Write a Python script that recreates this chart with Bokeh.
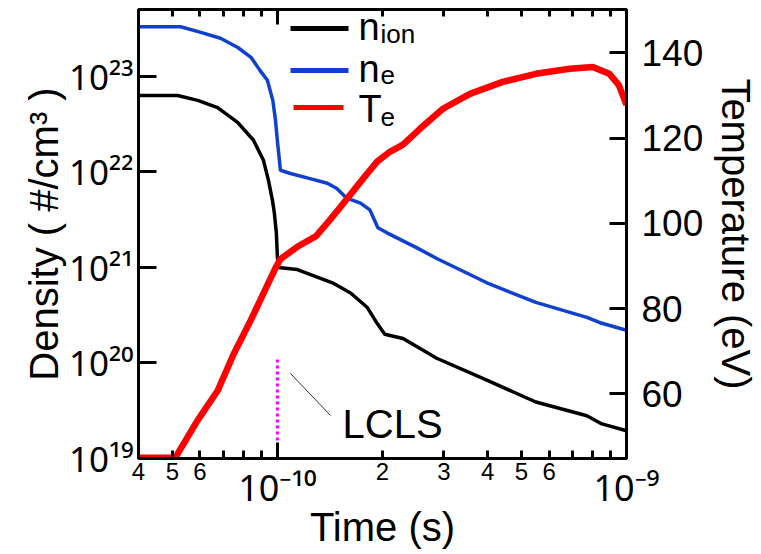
from bokeh.plotting import figure
from bokeh.models import (Range1d, LinearScale, LinearAxis, LogAxis, FixedTicker,
                          Label, BoxAnnotation, Arrow, CustomJSTickFormatter)
from bokeh.embed import file_html
from bokeh.resources import INLINE

FONT = "Liberation Sans"
SUP_FONT = "Noto Sans"

# ---------------- data ----------------
time_ion = [4.0e-11, 5.18e-11, 5.91e-11, 6.74e-11, 7.69e-11, 8.54e-11, 9.12e-11, 9.43e-11,
            9.68e-11, 9.8e-11, 9.93e-11, 1.0e-10, 1.007e-10, 1.14e-10, 1.30e-10, 1.45e-10,
            1.62e-10, 1.81e-10, 1.93e-10, 2.03e-10, 2.29e-10, 2.86e-10, 3.98e-10, 5.5e-10,
            7.7e-10, 8.5e-10, 1.0e-9]
n_ion = [6.3e22, 6.3e22, 5.6e22, 4.7e22, 3.3e22, 2.14e22, 1.32e22, 8.1e21,
         5.0e21, 3.7e21, 2.3e21, 1.27e21, 1.0e21, 9.5e20, 7.9e20, 6.8e20,
         5.4e20, 3.8e20, 2.6e20, 2.0e20, 1.8e20, 1.12e20, 6.6e19, 3.9e19,
         2.8e19, 2.3e19, 1.95e19]

time_e = [4.0e-11, 5.28e-11, 6.0e-11, 6.87e-11, 7.7e-11, 8.4e-11, 8.9e-11, 9.36e-11,
          9.7e-11, 9.87e-11, 1.0e-10, 1.02e-10, 1.09e-10, 1.24e-10, 1.39e-10, 1.48e-10,
          1.58e-10, 1.73e-10, 1.84e-10, 1.94e-10, 2.06e-10, 2.51e-10, 2.86e-10, 3.98e-10,
          5.5e-10, 7.7e-10, 8.5e-10, 1.0e-9]
n_e = [3.3e23, 3.3e23, 2.9e23, 2.5e23, 2.0e23, 1.58e23, 1.16e23, 9.1e22,
       5.6e22, 3.5e22, 2.1e22, 1.04e22, 9.6e21, 8.5e21, 7.6e21, 6.7e21,
       5.3e21, 4.7e21, 4.0e21, 2.6e21, 2.3e21, 1.6e21, 1.24e21, 6.9e20,
       4.3e20, 3.0e20, 2.6e20, 2.2e20]

time_T = [4.0e-11, 5.1e-11, 5.9e-11, 6.74e-11, 7.5e-11, 8.37e-11, 9.1e-11, 9.87e-11,
          1.02e-10, 1.14e-10, 1.29e-10, 1.42e-10, 1.48e-10, 1.62e-10, 1.76e-10, 1.93e-10,
          2.1e-10, 2.29e-10, 2.56e-10, 2.98e-10, 3.56e-10, 4.42e-10, 5.5e-10, 6.87e-10,
          8.0e-10, 8.93e-10, 9.5e-10, 1.0e-9]
T_e = [45.0, 45.0, 53.7, 60.7, 69.4, 77.1, 83.4, 89.5,
       91.6, 94.5, 97.0, 101.0, 102.8, 106.8, 110.5, 114.5,
       116.8, 118.5, 122.2, 126.9, 130.4, 133.2, 135.1, 136.3,
       136.7, 135.1, 132.5, 127.8]

lcls_time = [1.0e-10]
lcls_bottom = [1.0e19]
lcls_top = [1.1e20]

# ticks and tick labels
x_major_ticks = [1e-10, 1e-9]
x_major_labels = ["10\u207b\u00b9\u2070", "10\u207b\u2079"]           # 10⁻¹⁰, 10⁻⁹
x_minor_ticks = [4e-11, 5e-11, 6e-11, 7e-11, 8e-11, 9e-11,
                 2e-10, 3e-10, 4e-10, 5e-10, 6e-10, 7e-10, 8e-10, 9e-10]
x_minor_label_ticks = [4e-11, 5e-11, 6e-11, 2e-10, 3e-10, 4e-10, 5e-10, 6e-10]
x_minor_labels = ["4", "5", "6", "2", "3", "4", "5", "6"]
y_major_ticks = [1e19, 1e20, 1e21, 1e22, 1e23]
y_major_labels = ["10\u00b9\u2079", "10\u00b2\u2070", "10\u00b2\u00b9",
                  "10\u00b2\u00b2", "10\u00b2\u00b3"]                   # 10¹⁹ … 10²³
temp_ticks = [60, 80, 100, 120, 140]

LOOKUP = """
const lt = Math.log10(tick);
for (let i = 0; i < vals.length; i++) {
  if (Math.abs(Math.log10(vals[i]) - lt) < 1e-6) return texts[i];
}
return "";
"""

# ---------------- figure ----------------
p = figure(width=761, height=554, x_axis_type="log", y_axis_type="log",
           x_range=Range1d(4e-11, 1e-9), y_range=Range1d(1e19, 5e23),
           output_backend="svg", toolbar_location=None,
           min_border_left=138, min_border_right=134, min_border_top=9, min_border_bottom=96)
p.extra_y_ranges = {"temp": Range1d(44.8, 150.2)}
p.extra_y_scales = {"temp": LinearScale()}
p.xgrid.visible = False
p.ygrid.visible = False
p.outline_line_color = "black"
p.outline_line_width = 3
p.background_fill_color = "white"
p.border_fill_color = "white"


def style_axis(ax, tick_in, minor_in=0):
    ax.major_tick_in = tick_in
    ax.major_tick_out = 0
    ax.minor_tick_in = minor_in
    ax.minor_tick_out = 0
    ax.major_tick_line_width = 3
    ax.minor_tick_line_width = 3
    ax.axis_line_width = 3
    ax.major_tick_line_color = "black"
    ax.minor_tick_line_color = "black"
    ax.axis_line_color = "black"
    ax.axis_label_text_font = FONT
    ax.axis_label_text_font_style = "normal"
    ax.axis_label_text_font_size = "40px"
    ax.axis_label_text_color = "black"
    ax.major_label_text_font = FONT
    ax.major_label_text_color = "black"


# bottom axis 1: decade ticks (long) labelled 10^n, plus unlabelled minor ticks
xa = p.xaxis[0]
xa.ticker = FixedTicker(ticks=x_major_ticks, minor_ticks=x_minor_ticks)
xa.formatter = CustomJSTickFormatter(args=dict(vals=x_major_ticks, texts=x_major_labels), code=LOOKUP)
style_axis(xa, 16, 8)
xa.major_label_text_font = SUP_FONT
xa.major_label_text_font_size = "36px"
xa.major_label_standoff = 4

# bottom axis 2: digit labels of the minor ticks, pulled up beside the 10^n labels
xb = LogAxis(ticker=FixedTicker(ticks=x_minor_label_ticks, minor_ticks=[]),
             formatter=CustomJSTickFormatter(args=dict(vals=x_minor_label_ticks, texts=x_minor_labels),
                                             code=LOOKUP))
style_axis(xb, 0, 0)
xb.axis_line_color = None
xb.major_tick_line_color = None
xb.minor_tick_line_color = None
xb.major_label_text_font_size = "24px"
xb.major_label_standoff = -52
xb.axis_label = "Time (s)"
xb.axis_label_standoff = 22
p.add_layout(xb, "below")

ya = p.yaxis[0]
ya.ticker = FixedTicker(ticks=y_major_ticks, minor_ticks=[])
ya.formatter = CustomJSTickFormatter(args=dict(vals=y_major_ticks, texts=y_major_labels), code=LOOKUP)
style_axis(ya, 18, 0)
ya.major_label_text_font = SUP_FONT
ya.major_label_text_font_size = "35px"
ya.major_label_standoff = 5
ya.axis_label = "Density ( #/cm³ )"
ya.axis_label_standoff = 0

top = LogAxis(ticker=FixedTicker(ticks=x_major_ticks, minor_ticks=x_minor_ticks),
              formatter=CustomJSTickFormatter(code="return ''"))
style_axis(top, 15, 7)
top.major_label_standoff = 0
p.add_layout(top, "above")

ra = LinearAxis(y_range_name="temp", ticker=FixedTicker(ticks=temp_ticks, minor_ticks=[]))
style_axis(ra, 17, 0)
ra.major_label_text_font_size = "37px"
ra.major_label_standoff = 15
ra.axis_label = "Temperature (eV)"
ra.axis_label_standoff = 8
p.add_layout(ra, "right")

# ---------------- data lines ----------------
p.line(time_ion, n_ion, line_color="black", line_width=3.5)
p.line(time_e, n_e, line_color="#1040d0", line_width=3.5)
p.segment(x0=lcls_time, y0=lcls_bottom, x1=lcls_time, y1=lcls_top,
          line_color="#ff00ff", line_width=3, line_dash="3 3")
p.line(time_T, T_e, line_color="#ff0000", line_width=6.5, y_range_name="temp")

# ---------------- legend (frame-relative screen units) ----------------
legend_rows = [("black", "n", "ion", 5), ("#1040d0", "n", "e", 5), ("#ff0000", "T", "e", 5)]
row_y = [430, 388, 351]          # swatch centre, px above frame bottom
sw_left = [152, 152, 155]
sw_right = [210, 210, 205]
txt_base = [432, 390, 350]
sub_base = [425, 384, 342]
for (col, main, sub, lw), yy, l, r, tb, sb in zip(legend_rows, row_y, sw_left, sw_right, txt_base, sub_base):
    p.add_layout(BoxAnnotation(left=l, right=r, bottom=yy - lw / 2, top=yy + lw / 2,
                               left_units="screen", right_units="screen",
                               bottom_units="screen", top_units="screen",
                               fill_color=col, fill_alpha=1.0, line_color=None))
    p.add_layout(Label(x=220, y=tb, x_units="screen", y_units="screen", text=main,
                       text_align="left", text_baseline="alphabetic",
                       text_font=FONT, text_font_size="38px", text_color="black"))
    p.add_layout(Label(x=242, y=sb, x_units="screen", y_units="screen", text=sub,
                       text_align="left", text_baseline="alphabetic",
                       text_font=FONT, text_font_size="26px", text_color="black"))

# ---------------- LCLS annotation ----------------
p.add_layout(Arrow(end=None, x_start=152, y_start=85, x_end=192, y_end=43,
                   start_units="screen", end_units="screen",
                   line_color="#333333", line_width=1))
p.add_layout(Label(x=204, y=35, x_units="screen", y_units="screen", text="LCLS",
                   text_align="left", text_baseline="alphabetic",
                   text_font=FONT, text_font_size="40px", text_color="black"))

open("out.html", "w").write(file_html(p, INLINE))
